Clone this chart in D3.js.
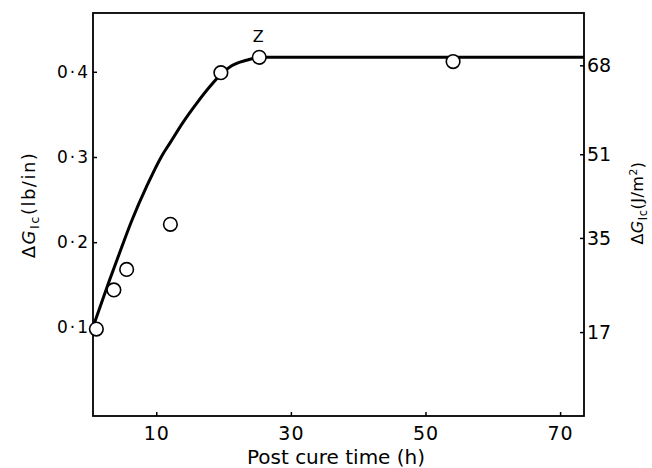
<!DOCTYPE html>
<html>
<head>
<meta charset="utf-8">
<script src="https://cdnjs.cloudflare.com/ajax/libs/d3/7.8.5/d3.min.js"></script>
<style>
  body { margin: 0; background: #fff; }
  svg { display: block; font-family: "DejaVu Sans", sans-serif; }
  .tick line { stroke: #000; stroke-width: 1.5; }
</style>
</head>
<body>
<div id="chart"></div>
<script>
const width = 652, height = 468;
const plotLeft = 93, plotRight = 584, plotTop = 13, plotBottom = 416;

// measured points (post cure time in h, delta G_Ic in lb/in)
const times = [1.1, 3.7, 5.6, 12.1, 19.6, 25.3, 54.1];
const deltaG = [0.098, 0.144, 0.168, 0.221, 0.399, 0.417, 0.412];

// hand drawn curve through the points
const curveTimes = [0.8, 2.9, 4.9, 6.4, 8.6, 10.8, 12.0, 14.0, 16.0, 18.0, 19.6, 21.2, 23.4, 25.3, 29.0, 73.55];
const curveG = [0.105, 0.152, 0.195, 0.226, 0.266, 0.301, 0.316, 0.341, 0.363, 0.383, 0.397, 0.407, 0.4135, 0.417, 0.417, 0.417];

const xTicks = [10, 30, 50, 70];
const leftTicks = [0.1, 0.2, 0.3, 0.4];
const leftLabels = ["0·1", "0·2", "0·3", "0·4"];
const rightTicks = [17, 35, 51, 68];

const labelIndex = 5; // the "Z" point

let svg = d3.select("#chart").
append("svg").
attr("width", width).
attr("height", height);

svg.append("rect").
attr("width", width).
attr("height", height).
attr("fill", "#fff");

let x = d3.scaleLinear().
domain([0.6, 73.55]).
range([plotLeft, plotRight]);

let y = d3.scaleLinear().
domain([-0.004, 0.469]).
range([plotBottom, plotTop]);

// J/m2 scale
let yRight = d3.scaleLinear().
domain([0.96, 78]).
range([plotBottom, plotTop]);

svg.append("g").
attr("transform", "translate(0," + plotBottom + ")").
call(d3.axisBottom(x).tickValues(xTicks).tickSizeInner(-4).tickSizeOuter(0).tickPadding(11)).
call(g => g.select(".domain").remove()).
selectAll("text").
attr("font-size", 19).
attr("font-family", "DejaVu Sans").
attr("letter-spacing", 1).
attr("fill", "#000");

svg.append("g").
attr("transform", "translate(" + plotLeft + ",0)").
call(d3.axisLeft(y).tickValues(leftTicks).
tickFormat((d, i) => leftLabels[i]).
tickSizeInner(-4).tickSizeOuter(0).tickPadding(3)).
call(g => g.select(".domain").remove()).
selectAll("text").
attr("font-size", 17).
attr("font-family", "DejaVu Sans").
attr("letter-spacing", 2).
attr("fill", "#000");

svg.append("g").
attr("transform", "translate(" + plotRight + ",0)").
call(d3.axisRight(yRight).tickValues(rightTicks).tickSizeInner(-4).tickSizeOuter(0).tickPadding(3)).
call(g => g.select(".domain").remove()).
selectAll("text").
attr("font-size", 19).
attr("font-family", "DejaVu Sans").
attr("fill", "#000");

// frame
svg.append("rect").
attr("x", plotLeft).
attr("y", plotTop).
attr("width", plotRight - plotLeft).
attr("height", plotBottom - plotTop).
attr("fill", "none").
attr("stroke", "#000").
attr("stroke-width", 1.8);

let line = d3.line().
x(d => x(d[0])).
y(d => y(d[1])).
curve(d3.curveMonotoneX);

svg.append("path").
datum(curveTimes.map((t, i) => [t, curveG[i]])).
attr("d", line).
attr("fill", "none").
attr("stroke", "#000").
attr("stroke-width", 3).
attr("stroke-linejoin", "round");

svg.selectAll(".point").
data(times.map((t, i) => [t, deltaG[i]])).
enter().
append("circle").
attr("class", "point").
attr("cx", d => x(d[0])).
attr("cy", d => y(d[1])).
attr("r", 6.8).
attr("fill", "#fff").
attr("stroke", "#000").
attr("stroke-width", 1.6);

svg.append("text").
attr("x", x(times[labelIndex]) - 1).
attr("y", y(deltaG[labelIndex]) - 15).
attr("text-anchor", "middle").
attr("font-size", 16).
text("Z");

svg.append("text").
attr("x", 336).
attr("y", 464).
attr("text-anchor", "middle").
attr("font-size", 20).
text("Post cure time (h)");

// rotated axis titles with subscript Ic
function axisTitle(tx, ty, size, spacing, unit, superscript) {
  let t = svg.append("text").
  attr("transform", "translate(" + tx + "," + ty + ") rotate(-90)").
  attr("text-anchor", "middle").
  attr("font-size", size).
  attr("letter-spacing", spacing);
  t.append("tspan").text("Δ");
  t.append("tspan").attr("font-style", "italic").text("G");
  t.append("tspan").attr("font-size", size * 0.72).attr("dy", 4).text("Ic");
  t.append("tspan").attr("dy", -4).text(unit);
  if (superscript) {
    t.append("tspan").attr("font-size", size * 0.68).attr("dy", -6).text(superscript);
    t.append("tspan").attr("dy", 6).text(")");
  }
}

axisTitle(35, 205, 18, 1.5, "(lb/in)");
axisTitle(643, 203, 16, 0.5, "(J/m", "2");
</script>
</body>
</html>
